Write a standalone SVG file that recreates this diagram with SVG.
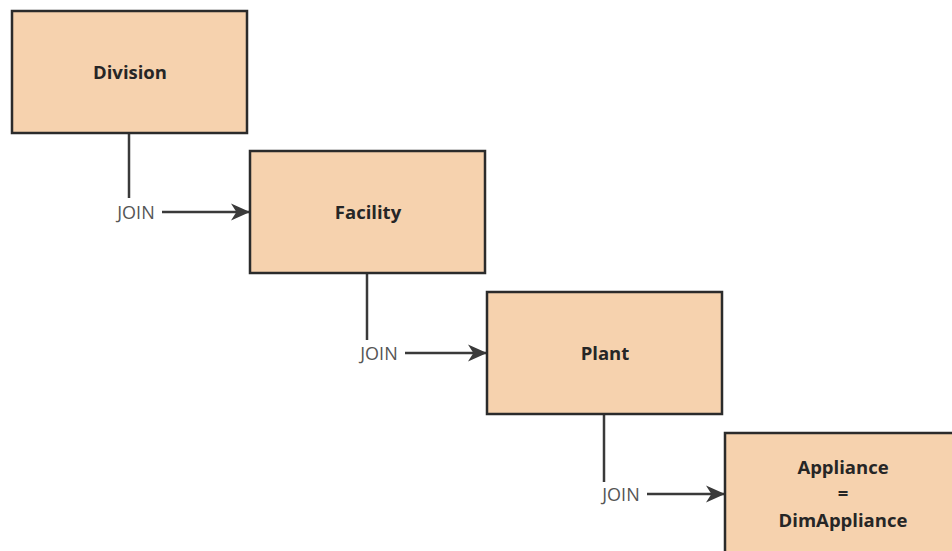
<svg xmlns="http://www.w3.org/2000/svg" width="952" height="551" viewBox="0 0 952 551">
  <defs>
    <style>
      .box { fill: #f6d2ae; stroke: #2b2b2b; stroke-width: 2.5; }
      .name { font-family: "Open Sans", "Noto Sans", sans-serif; font-weight: 700; font-size: 18.5px; fill: #262626; text-anchor: middle; }
      .edge { fill: none; stroke: #3a3a3a; stroke-width: 2.5; }
      .join { font-family: "Open Sans", "Noto Sans", sans-serif; font-size: 18px; fill: #555; text-anchor: middle; }
    </style>
    <marker id="arrow" viewBox="0 0 10 10" refX="9.5" refY="5" markerWidth="8" markerHeight="8" orient="auto" markerUnits="strokeWidth">
      <path d="M0.5,0.8 L10,5 L0.5,9.2 L3.2,5 Z" fill="#3a3a3a"/>
    </marker>
  </defs>
  <rect width="952" height="551" fill="#ffffff"/>

  <g id="connectors">
    <g id="division-facility">
      <line class="edge" x1="129" y1="133" x2="129" y2="198"/>
      <text class="join" x="136" y="218.5">JOIN</text>
      <line class="edge" x1="162" y1="212" x2="249" y2="212" marker-end="url(#arrow)"/>
    </g>
    <g id="facility-plant">
      <line class="edge" x1="367" y1="273" x2="367" y2="340"/>
      <text class="join" x="379" y="359.5">JOIN</text>
      <line class="edge" x1="405" y1="353" x2="486" y2="353" marker-end="url(#arrow)"/>
    </g>
    <g id="plant-appliance">
      <line class="edge" x1="604" y1="414" x2="604" y2="482"/>
      <text class="join" x="621" y="500.5">JOIN</text>
      <line class="edge" x1="647" y1="494" x2="724" y2="494" marker-end="url(#arrow)"/>
    </g>
  </g>

  <g id="division">
    <rect class="box" x="12" y="11" width="235" height="122"/>
    <text class="name" x="130" y="78.5">Division</text>
  </g>
  <g id="facility">
    <rect class="box" x="250" y="151" width="235" height="122"/>
    <text class="name" x="368" y="218.5">Facility</text>
  </g>
  <g id="plant">
    <rect class="box" x="487" y="292" width="235" height="122"/>
    <text class="name" x="605" y="359.5">Plant</text>
  </g>
  <g id="appliance">
    <rect class="box" x="725" y="433" width="235" height="122"/>
    <text class="name" x="843" y="474">Appliance</text>
    <text class="name" x="843" y="500">=</text>
    <text class="name" x="843" y="527">DimAppliance</text>
  </g>
</svg>
